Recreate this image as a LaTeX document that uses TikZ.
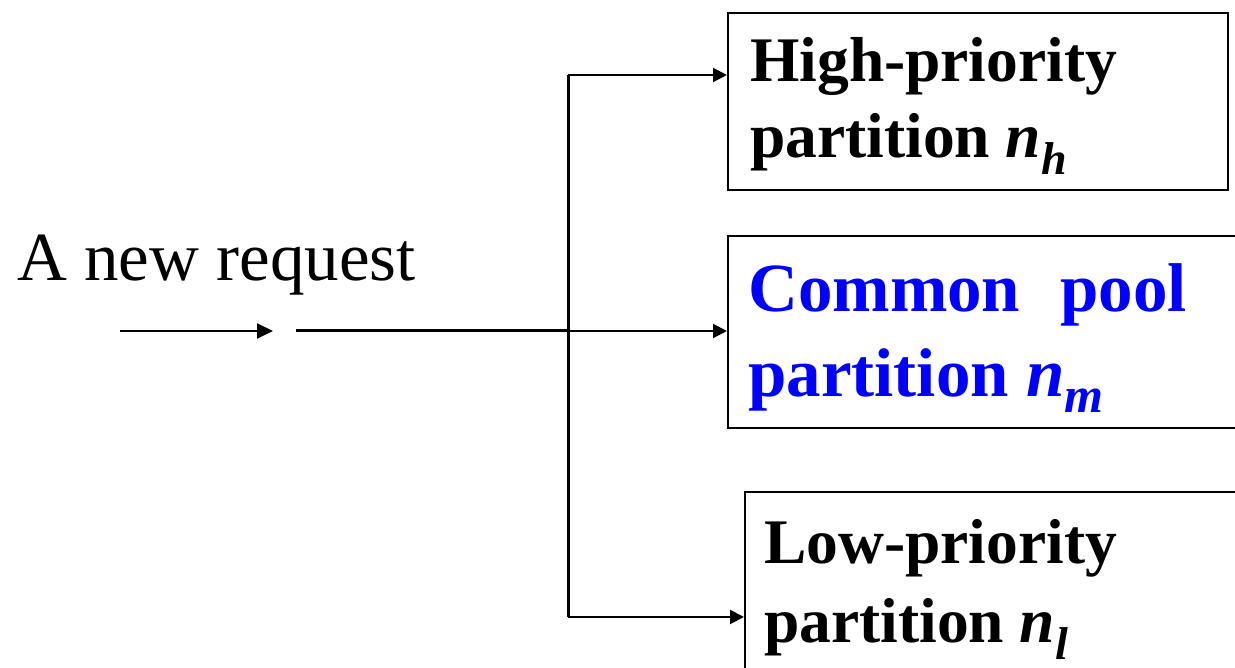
\documentclass[tikz,border=0pt]{standalone}
\usepackage{fontspec}
\setmainfont{Liberation Serif}
\usetikzlibrary{arrows.meta}
\definecolor{pblue}{RGB}{0,0,255}
\newcommand\mysub[2]{\raisebox{-17pt}{\fontsize{#1}{#1}\selectfont\textit{#2}}}
\begin{document}
\begin{tikzpicture}[x=1pt,y=-1pt,
  box/.style={draw=black, line width=2pt, inner sep=0pt, anchor=north west},
  arr/.style={line width=2pt, -{Triangle[length=14pt,width=14pt]}},
  bigarr/.style={line width=2pt, -{Triangle[length=16pt,width=15pt]}},
  trunk/.style={line width=3pt},
  lblA/.style={anchor=base west, inner sep=0pt, font=\fontsize{63.5}{70}\selectfont\bfseries},
  lblB/.style={anchor=base west, inner sep=0pt, text=pblue, font=\fontsize{69}{76}\selectfont\bfseries},
  plain/.style={anchor=base west, inner sep=0pt, font=\fontsize{69}{76}\selectfont},
]
\useasboundingbox (0,0) rectangle (1235,668);
\clip (0,0) rectangle (1235,668);

% boxes
\node[box, minimum width=500pt, minimum height=177pt] (hi) at (727,12) {};
\node[box, minimum width=520pt, minimum height=192pt] (mid) at (727,235) {};
\node[box, minimum width=510pt, minimum height=200pt] (lo) at (744,491) {};

% box texts
\node[lblA] (hi1) at (750,82) {High-priority};
\node[lblA] (hi2) at (750,158) {partition \textit{n}\mysub{46}{h}};
\node[lblB] (mid1) at (748,312) {Common\hskip 40pt pool};
\node[lblB] (mid2) at (748,396) {partition \textit{n}\mysub{50}{m}};
\node[lblA] (lo1) at (764,563) {Low-priority};
\node[lblA] (lo2) at (764,642) {partition \textit{n}\mysub{46}{l}};

% request label
\node[plain] (req) at (17,281) {A new request};

% connectors
\coordinate (s) at (120,331);
\coordinate (e) at (273,331);
\coordinate (t0) at (296,331);
\coordinate (jm) at (568,331);
\coordinate (jt) at (568,75);
\coordinate (jb) at (568,617);

\draw[bigarr] (s) -- (e);
\draw[trunk] (t0) -- (jm);
\draw[trunk] (jt) -- (jb);
\draw[arr] (jt) -- (jt -| hi.west);
\draw[arr] (jm) -- (jm -| mid.west);
\draw[arr] (jb) -- (jb -| lo.west);
\end{tikzpicture}
\end{document}
